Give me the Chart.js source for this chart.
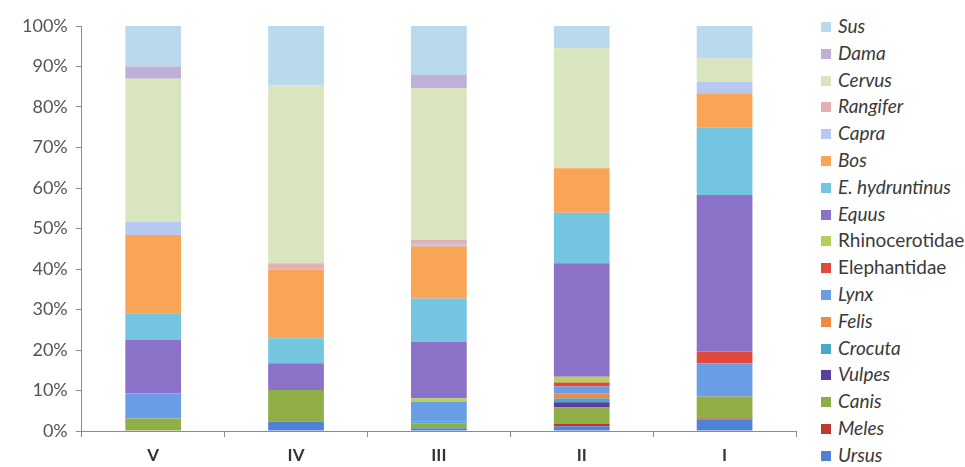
<!DOCTYPE html>
<html>
<head>
<meta charset="utf-8">
<script src="https://cdn.jsdelivr.net/npm/chart.js@4.4.1/dist/chart.umd.min.js"></script>
<style>
    html, body { margin: 0; padding: 0; background: #fff; }
    #wrap { position: relative; width: 965px; height: 467px; overflow: hidden; }
    #chart-box { position: absolute; left: 0; top: 0; width: 810px; height: 467px; }
    #legend { position: absolute; left: 821px; top: 13px; font-family: Lato, "Open Sans", sans-serif; font-size: 19px; color: #3a3a3a; }
    #legend div { height: 26.8px; line-height: 26px; white-space: nowrap; }
    #legend span.box { display: inline-block; width: 10px; height: 10px; margin-right: 7px; vertical-align: 1px; }
    #legend .it { font-style: italic; }
</style>
</head>
<body>
<div id="wrap">
    <div id="chart-box"><canvas id="faunaChart"></canvas></div>
    <div id="legend"></div>
</div>
<script>
// ─── Data (percent of NISP per level) ─────────────────────────────────────────
const levels = ['V', 'IV', 'III', 'II', 'I'];
const yTicks = [0, 10, 20, 30, 40, 50, 60, 70, 80, 90, 100];

const ursus        = [0, 2.3, 0.7, 1.2, 2.9];
const meles        = [0, 0, 0, 0.6, 0.2];
const canis        = [3.1, 7.8, 1.2, 4.0, 5.4];
const vulpes       = [0, 0, 0, 1.3, 0];
const crocuta      = [0, 0, 0.4, 1.0, 0];
const felis        = [0, 0, 0, 1.2, 0];
const lynx         = [6.2, 0, 4.9, 1.7, 8.2];
const elephantidae = [0, 0, 0, 1.0, 2.9];
const rhino        = [0, 0, 0.9, 1.4, 0];
const equus        = [13.2, 6.6, 13.9, 28.0, 38.7];
const hydruntinus  = [6.6, 6.2, 10.7, 12.5, 16.7];
const bos          = [19.3, 16.9, 12.9, 11.0, 8.4];
const capra        = [3.3, 0, 0.8, 0, 2.8];
const rangifer     = [0, 1.6, 0.8, 0, 0];
const cervus       = [35.3, 44.0, 37.4, 29.6, 5.8];
const dama         = [3.0, 0, 3.3, 0, 0];
const sus          = [10.0, 14.6, 12.1, 5.5, 8.0];

// stacking order, bottom to top
const taxa = [
    { name: 'Ursus', data: ursus, color: '#4f81d6', italic: true },
    { name: 'Meles', data: meles, color: '#c0392f', italic: true },
    { name: 'Canis', data: canis, color: '#8fae45', italic: true },
    { name: 'Vulpes', data: vulpes, color: '#5a3f9c', italic: true },
    { name: 'Crocuta', data: crocuta, color: '#4aa9c6', italic: true },
    { name: 'Felis', data: felis, color: '#ef8a3e', italic: true },
    { name: 'Lynx', data: lynx, color: '#6b9ce6', italic: true },
    { name: 'Elephantidae', data: elephantidae, color: '#df4a3c', italic: false },
    { name: 'Rhinocerotidae', data: rhino, color: '#b3cf5c', italic: false },
    { name: 'Equus', data: equus, color: '#8b71c8', italic: true },
    { name: 'E. hydruntinus', data: hydruntinus, color: '#74c5e0', italic: true },
    { name: 'Bos', data: bos, color: '#f9a555', italic: true },
    { name: 'Capra', data: capra, color: '#b8c9ef', italic: true },
    { name: 'Rangifer', data: rangifer, color: '#e3b1b3', italic: true },
    { name: 'Cervus', data: cervus, color: '#d9e5bf', italic: true },
    { name: 'Dama', data: dama, color: '#c1b0d6', italic: true },
    { name: 'Sus', data: sus, color: '#b8daec', italic: true }
];

// ─── HTML legend (top = last stacked) ─────────────────────────────────────────
document.getElementById('legend').innerHTML = taxa.slice().reverse().map(t =>
    `<div><span class="box" style="background:${t.color}"></span><span class="${t.italic ? 'it' : ''}">${t.name}</span></div>`
).join('');

// ─── Chart ────────────────────────────────────────────────────────────────────
const axisGrey = '#8c8c8c';
const ctx = document.getElementById('faunaChart').getContext('2d');
new Chart(ctx, {
    type: 'bar',
    data: {
        labels: levels,
        datasets: taxa.map(t => ({
            label: t.name,
            data: t.data,
            backgroundColor: t.color,
            borderWidth: 0,
            barPercentage: 0.39,
            categoryPercentage: 1
        }))
    },
    options: {
        responsive: true,
        maintainAspectRatio: false,
        animation: false,
        layout: { padding: { top: 26, right: 14, bottom: 0, left: 14 } },
        plugins: { legend: { display: false }, tooltip: { enabled: false } },
        scales: {
            x: {
                stacked: true,
                afterFit: s => { s.height = 36; },
                grid: { display: true, drawOnChartArea: false, offset: true, tickLength: 6, color: axisGrey },
                border: { color: axisGrey },
                ticks: { color: '#333', font: { family: 'Lato', size: 17, weight: 'bold' }, padding: 8 }
            },
            y: {
                stacked: true,
                min: 0,
                max: 100,
                afterBuildTicks: axis => { axis.ticks = yTicks.map(v => ({ value: v })); },
                grid: { drawOnChartArea: false, tickLength: 6, color: axisGrey },
                border: { color: axisGrey },
                ticks: {
                    color: '#555',
                    font: { family: 'Lato', size: 18 },
                    padding: 8,
                    callback: v => v + '%'
                }
            }
        }
    }
});
</script>
</body>
</html>
